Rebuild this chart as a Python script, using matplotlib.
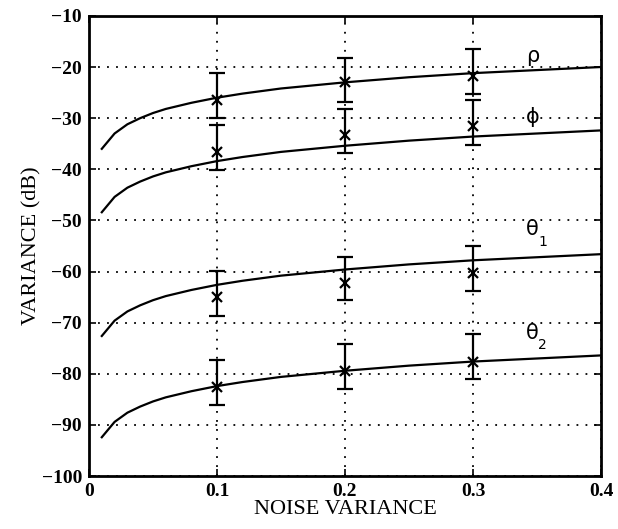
import numpy as np
import matplotlib.pyplot as plt

plt.rcParams['font.family'] = ['Liberation Serif', 'DejaVu Serif']

# curve samples
noise = [0.01, 0.02, 0.03, 0.04, 0.05, 0.06, 0.08, 0.10, 0.12, 0.15, 0.20, 0.25, 0.30, 0.35, 0.40]
rho_curve = [-36.0, -33.0, -31.2, -30.0, -29.0, -28.2, -27.0, -26.0, -25.2, -24.2, -23.0, -22.0, -21.2, -20.6, -20.0]
phi_curve = [-48.4, -45.4, -43.6, -42.4, -41.4, -40.6, -39.4, -38.4, -37.6, -36.6, -35.4, -34.4, -33.6, -33.0, -32.4]
th1_curve = [-72.6, -69.6, -67.8, -66.6, -65.6, -64.8, -63.6, -62.6, -61.8, -60.8, -59.6, -58.6, -57.8, -57.2, -56.6]
th2_curve = [-92.4, -89.4, -87.6, -86.4, -85.4, -84.6, -83.4, -82.4, -81.6, -80.6, -79.4, -78.4, -77.6, -77.0, -76.4]

# simulation points (mean, top of bar, bottom of bar)
sim_x = [0.1, 0.2, 0.3]
rho_pts = [-26.4, -23.0, -21.7]
rho_top = [-21.1, -18.3, -16.5]
rho_bot = [-29.9, -26.8, -25.3]
phi_pts = [-36.7, -33.3, -31.5]
phi_top = [-31.3, -28.2, -26.4]
phi_bot = [-40.1, -36.9, -35.2]
th1_pts = [-65.0, -62.3, -60.3]
th1_top = [-59.9, -57.2, -55.1]
th1_bot = [-68.7, -65.6, -63.9]
th2_pts = [-82.5, -79.5, -77.6]
th2_top = [-77.2, -74.2, -72.3]
th2_bot = [-86.1, -83.0, -81.1]

fig = plt.figure(figsize=(6.18, 5.29), dpi=100)
ax = fig.add_axes([0.144, 0.100, 0.8285, 0.870])

for c in [rho_curve, phi_curve, th1_curve, th2_curve]:
    ax.plot(noise, c, color='black', lw=1.6)

for p, t, b in [(rho_pts, rho_top, rho_bot), (phi_pts, phi_top, phi_bot),
                (th1_pts, th1_top, th1_bot), (th2_pts, th2_top, th2_bot)]:
    p = np.array(p)
    err = [p - np.array(b), np.array(t) - p]
    ax.errorbar(sim_x, p, yerr=err, fmt='x', color='black', ms=7, mew=1.6,
                elinewidth=1.6, capsize=6, capthick=1.6)

# curve labels
gk = dict(family='DejaVu Sans', fontsize=15, ha='center', va='center')
sb = dict(family='DejaVu Sans', fontsize=10, ha='center', va='center')
ax.text(0.347, -17.8, '\u03c1', **gk)
ax.text(0.347, -29.8, '\u03d5', **gk)
ax.text(0.346, -51.7, '\u03b8', **gk)
ax.text(0.3545, -54.3, '1', **sb)
ax.text(0.346, -72.1, '\u03b8', **gk)
ax.text(0.3545, -74.4, '2', **sb)

ax.set_xlim(0, 0.4)
ax.set_ylim(-100, -10)
ax.set_xticks([0, 0.1, 0.2, 0.3, 0.4])
ax.set_xticklabels(['0', '0.1', '0.2', '0.3', '0.4'])
ax.set_yticks(np.arange(-100, -9, 10))
ax.set_yticklabels(['\u2212%d' % abs(v) for v in range(-100, -9, 10)])
ax.grid(True, color='black', linestyle=(0, (1, 4)), lw=1.3)
ax.tick_params(direction='in', length=5, width=1.2, labelsize=14, right=True, top=True, pad=5)
for lab in ax.get_xticklabels() + ax.get_yticklabels():
    lab.set_fontweight('bold')
for s in ax.spines.values():
    s.set_linewidth(2.0)

ax.set_xlabel('NOISE VARIANCE', fontsize=16, labelpad=0)
ax.set_ylabel('VARIANCE (dB)', fontsize=16, labelpad=0)

fig.savefig('out.png', dpi=100)
